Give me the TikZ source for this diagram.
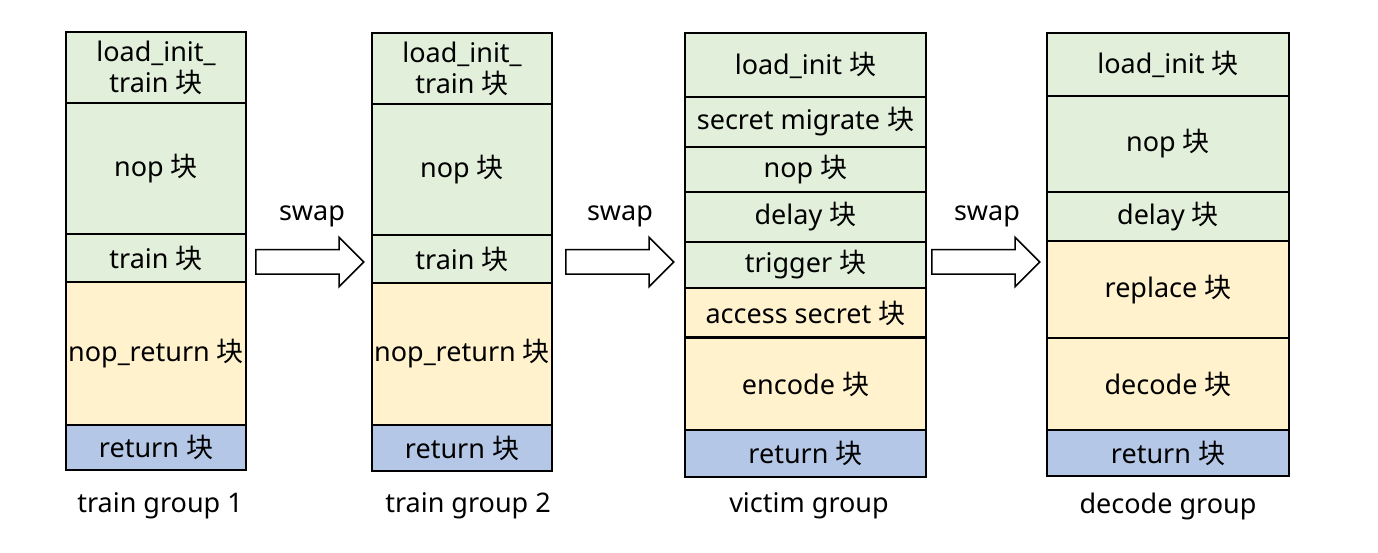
\documentclass[tikz,border=0pt]{standalone}
\usepackage{fontspec}
\setmainfont{Noto Sans}
\newfontfamily\cjk{Noto Sans CJK SC}
\usetikzlibrary{shapes.arrows}
\newcommand{\kuai}{{\cjk 块}}
\begin{document}
\begin{tikzpicture}[x=1pt,y=-1pt]
  % Define colors
  \definecolor{initcolor}{RGB}{226,239,218}
  \definecolor{payloadcolor}{RGB}{255,242,204}
  \definecolor{retcolor}{RGB}{180,199,231}
  \tikzset{
    blk/.style={draw=black,line width=2pt,inner sep=0pt,align=center,
      font=\fontsize{27}{31}\selectfont},
    swaparrow/.style={single arrow,draw=black,line width=1.5pt,fill=white,
      minimum height=108pt,inner xsep=0pt,inner ysep=11.5pt,
      single arrow head extend=12.5pt,anchor=west},
    grouplabel/.style={font=\fontsize{27}{30}\selectfont}
  }
  \useasboundingbox (0,0) rectangle (1378,553);

  % Train group 1
  \foreach \y/\h/\c/\t [count=\i] in {32/71/initcolor/{load\_init\_\\train \kuai},
      103/131/initcolor/{nop \kuai}, 234/48/initcolor/{train \kuai},
      282/143/payloadcolor/{nop\_return \kuai}, 425/45/retcolor/{return \kuai}} {
    \node[blk,fill=\c,minimum width=180,minimum height=\h] (ga\i) at (156,{\y+\h/2}) {\t};
  }
  \node[grouplabel] (ganame) at (160,506) {train group 1};

  % Train group 2
  \foreach \y/\h/\c/\t [count=\i] in {33/71/initcolor/{load\_init\_\\train \kuai},
      104/131/initcolor/{nop \kuai}, 235/48/initcolor/{train \kuai},
      283/142/payloadcolor/{nop\_return \kuai}, 425/46/retcolor/{return \kuai}} {
    \node[blk,fill=\c,minimum width=180,minimum height=\h] (gb\i) at (462,{\y+\h/2}) {\t};
  }
  \node[grouplabel] (gbname) at (468,506) {train group 2};

  % Victim group
  \foreach \y/\h/\c/\t [count=\i] in {33/64/initcolor/{load\_init \kuai},
      97/50/initcolor/{secret migrate \kuai}, 147/45/initcolor/{nop \kuai},
      192/50/initcolor/{delay \kuai}, 242/46/initcolor/{trigger \kuai},
      288/50/payloadcolor/{access secret \kuai}, 338/92/payloadcolor/{encode \kuai},
      430/47/retcolor/{return \kuai}} {
    \node[blk,fill=\c,minimum width=241,minimum height=\h] (gc\i) at (805.5,{\y+\h/2}) {\t};
  }
  \draw[line width=3pt] (gc7.north west) -- (gc7.north east);
  \node[grouplabel] (gcname) at (809,506) {victim group};

  % Decode group
  \foreach \y/\h/\c/\t [count=\i] in {33/63/initcolor/{load\_init \kuai},
      96/96/initcolor/{nop \kuai}, 192/49/initcolor/{delay \kuai},
      241/97/payloadcolor/{replace \kuai}, 338/92/payloadcolor/{decode \kuai},
      430/46/retcolor/{return \kuai}} {
    \node[blk,fill=\c,minimum width=242,minimum height=\h] (gd\i) at (1168,{\y+\h/2}) {\t};
  }
  \node[grouplabel] (gdname) at (1168,506) {decode group};

  % Swap arrows
  \foreach \x/\lx/\n in {255/312/1,565/620/2,931/987/3} {
    \node[swaparrow] (swap\n) at (\x,262) {};
    \node[grouplabel] at (\lx,216) {swap};
  }
\end{tikzpicture}
\end{document}
